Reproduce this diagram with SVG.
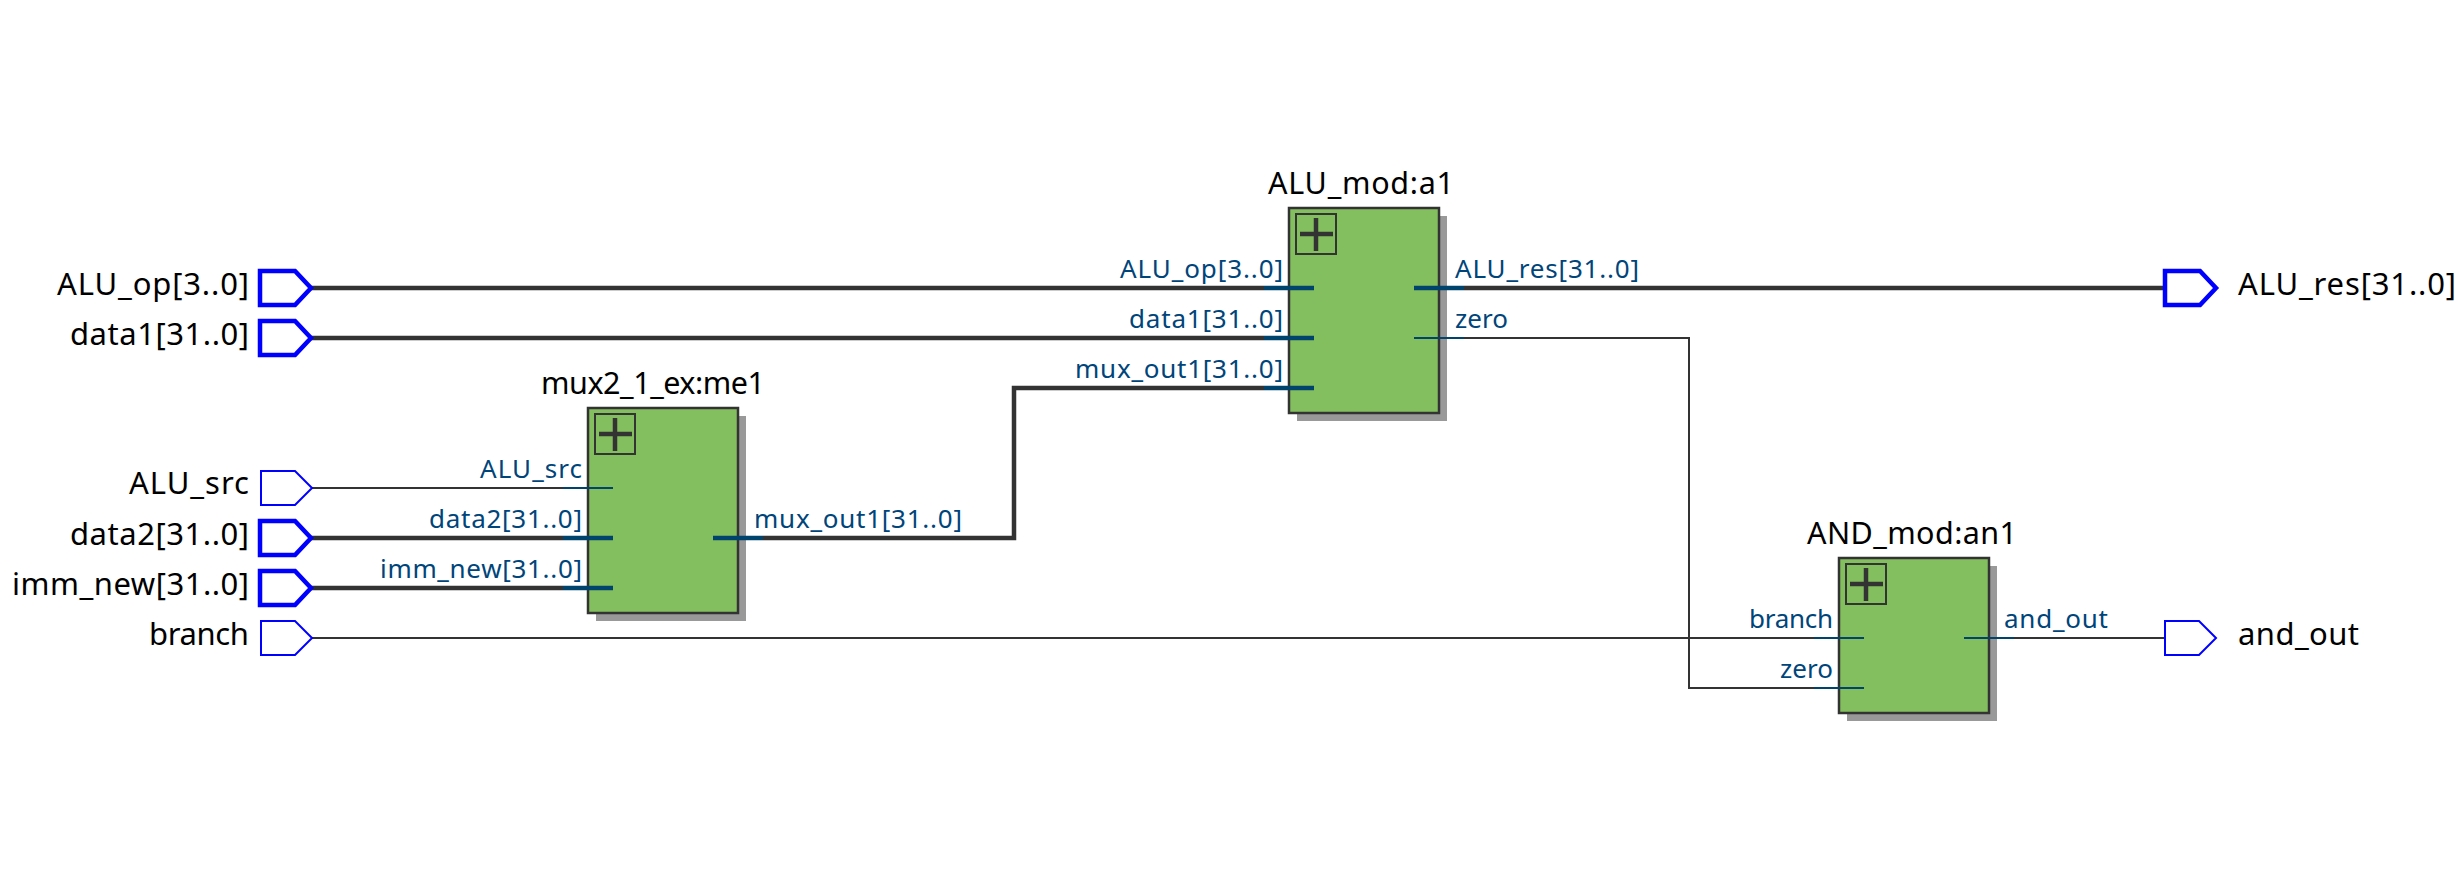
<svg xmlns="http://www.w3.org/2000/svg" width="2458" height="877" viewBox="0 0 2458 877">
<style>
.ext{font-family:"Noto Sans","Open Sans","DejaVu Sans",sans-serif;font-size:31px;fill:#000}
.ttl{font-family:"Noto Sans","Open Sans","DejaVu Sans",sans-serif;font-size:30.5px;fill:#000}
.pin{font-family:"Noto Sans","Open Sans","DejaVu Sans",sans-serif;font-size:26px;fill:#00457a}
.r{text-anchor:end}
.port{fill:#fff;stroke:#0000ff;stroke-linejoin:miter}
.pbus{stroke-width:4.5}
.pthin{stroke-width:2}
.box{fill:#84bf5f;stroke:#333;stroke-width:2.5}
.shadow{fill:#999}
.icon{fill:none;stroke:#333;stroke-width:2}
.plus{stroke:#333;stroke-width:4.5}
.bus{fill:none;stroke:#333;stroke-width:4.5}
.thin{fill:none;stroke:#333;stroke-width:2}
.sbus{stroke:#00446e;stroke-width:4.5}
.sthin{stroke:#00446e;stroke-width:2}
</style>
<rect width="2458" height="877" fill="#fff"/>

<g id="connectors">
  <path class="bus" d="M311,288 H1264"/>
  <path class="bus" d="M311,338 H1264"/>
  <path class="thin" d="M312,488 H563"/>
  <path class="bus" d="M311,538 H563"/>
  <path class="bus" d="M311,588 H563"/>
  <path class="thin" d="M312,638 H1814"/>
  <path class="bus" d="M763,538 H1014 V388 H1264"/>
  <path class="bus" d="M1464,288 H2165"/>
  <path class="thin" d="M1464,338 H1689 V688 H1814"/>
  <path class="thin" d="M2014,638 H2165"/>
</g>

<g id="in_ALU_op">
  <path class="port pbus" d="M260,271 H295 L311,288 L295,305 H260 Z"/>
  <text class="ext r" x="249" y="295" textLength="192" lengthAdjust="spacing">ALU_op[3..0]</text>
</g>
<g id="in_data1">
  <path class="port pbus" d="M260,321 H295 L311,338 L295,355 H260 Z"/>
  <text class="ext r" x="249" y="345" textLength="179" lengthAdjust="spacing">data1[31..0]</text>
</g>
<g id="in_ALU_src">
  <path class="port pthin" d="M261,471 H295 L312,488 L295,505 H261 Z"/>
  <text class="ext r" x="249" y="494" textLength="120" lengthAdjust="spacing">ALU_src</text>
</g>
<g id="in_data2">
  <path class="port pbus" d="M260,521 H295 L311,538 L295,555 H260 Z"/>
  <text class="ext r" x="249" y="545" textLength="179" lengthAdjust="spacing">data2[31..0]</text>
</g>
<g id="in_imm_new">
  <path class="port pbus" d="M260,571 H295 L311,588 L295,605 H260 Z"/>
  <text class="ext r" x="249" y="595" textLength="237" lengthAdjust="spacing">imm_new[31..0]</text>
</g>
<g id="in_branch">
  <path class="port pthin" d="M261,621 H295 L312,638 L295,655 H261 Z"/>
  <text class="ext r" x="249" y="645" textLength="100" lengthAdjust="spacing">branch</text>
</g>

<g id="out_ALU_res">
  <path class="port pbus" d="M2165,271 H2200 L2216,288 L2200,305 H2165 Z"/>
  <text class="ext" x="2238" y="295" textLength="218" lengthAdjust="spacing">ALU_res[31..0]</text>
</g>
<g id="out_and_out">
  <path class="port pthin" d="M2165,621 H2199 L2216,638 L2199,655 H2165 Z"/>
  <text class="ext" x="2238" y="645" textLength="121" lengthAdjust="spacing">and_out</text>
</g>

<g id="mux2_1_ex_me1">
  <text class="ttl" x="541" y="394" textLength="224" lengthAdjust="spacing">mux2_1_ex:me1</text>
  <rect class="shadow" x="596" y="416" width="150" height="205"/>
  <rect class="box" x="588" y="408" width="150" height="205"/>
  <rect class="icon" x="595" y="414" width="40" height="40"/>
  <path class="plus" d="M599,434 H632 M615,418 V451"/>
  <path class="sthin" d="M563,488 H613"/>
  <path class="sbus" d="M563,538 H613"/>
  <path class="sbus" d="M563,588 H613"/>
  <path class="sbus" d="M713,538 H763"/>
  <text class="pin r" x="582" y="478" textLength="102" lengthAdjust="spacing">ALU_src</text>
  <text class="pin r" x="582" y="528" textLength="153" lengthAdjust="spacing">data2[31..0]</text>
  <text class="pin r" x="582" y="578" textLength="202" lengthAdjust="spacing">imm_new[31..0]</text>
  <text class="pin" x="754" y="528" textLength="208" lengthAdjust="spacing">mux_out1[31..0]</text>
</g>

<g id="ALU_mod_a1">
  <text class="ttl" x="1268" y="194" textLength="186" lengthAdjust="spacing">ALU_mod:a1</text>
  <rect class="shadow" x="1297" y="216" width="150" height="205"/>
  <rect class="box" x="1289" y="208" width="150" height="205"/>
  <rect class="icon" x="1296" y="214" width="40" height="40"/>
  <path class="plus" d="M1300,234 H1333 M1316,218 V251"/>
  <path class="sbus" d="M1264,288 H1314"/>
  <path class="sbus" d="M1264,338 H1314"/>
  <path class="sbus" d="M1264,388 H1314"/>
  <path class="sbus" d="M1414,288 H1464"/>
  <path class="sthin" d="M1414,338 H1464"/>
  <text class="pin r" x="1283" y="278" textLength="163" lengthAdjust="spacing">ALU_op[3..0]</text>
  <text class="pin r" x="1283" y="328" textLength="154" lengthAdjust="spacing">data1[31..0]</text>
  <text class="pin r" x="1283" y="378" textLength="208" lengthAdjust="spacing">mux_out1[31..0]</text>
  <text class="pin" x="1455" y="278" textLength="184" lengthAdjust="spacing">ALU_res[31..0]</text>
  <text class="pin" x="1455" y="328" textLength="53" lengthAdjust="spacing">zero</text>
</g>

<g id="AND_mod_an1">
  <text class="ttl" x="1807" y="544" textLength="210" lengthAdjust="spacing">AND_mod:an1</text>
  <rect class="shadow" x="1847" y="566" width="150" height="155"/>
  <rect class="box" x="1839" y="558" width="150" height="155"/>
  <rect class="icon" x="1846" y="564" width="40" height="40"/>
  <path class="plus" d="M1850,584 H1883 M1866,568 V601"/>
  <path class="sthin" d="M1814,638 H1864"/>
  <path class="sthin" d="M1814,688 H1864"/>
  <path class="sthin" d="M1964,638 H2014"/>
  <text class="pin r" x="1833" y="628" textLength="84" lengthAdjust="spacing">branch</text>
  <text class="pin r" x="1833" y="678" textLength="53" lengthAdjust="spacing">zero</text>
  <text class="pin" x="2004" y="628" textLength="104" lengthAdjust="spacing">and_out</text>
</g>
</svg>
